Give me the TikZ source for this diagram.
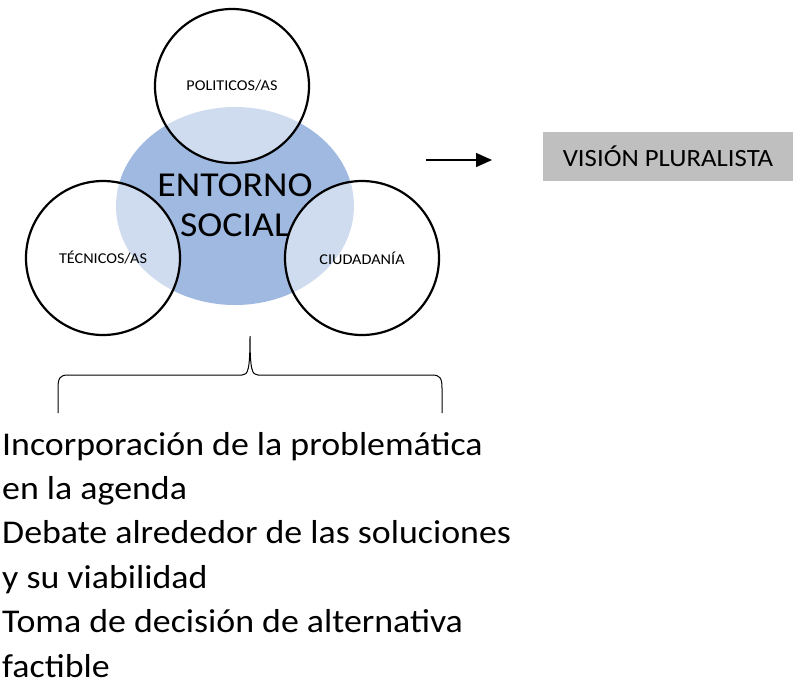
\documentclass[tikz,border=0pt]{standalone}
\usepackage{fontspec}
\setmainfont[FakeStretch=1.08]{Carlito}
\usetikzlibrary{positioning,arrows.meta,shapes.geometric}
\definecolor{socialblue}{RGB}{160,185,224}
\definecolor{visiongray}{RGB}{191,191,191}

\begin{document}
\begin{tikzpicture}[x=1pt, y=-1pt,
  actor/.style={draw, circle, line width=2.2pt, minimum size=154pt, inner sep=0pt, fill=white, fill opacity=0.5, text opacity=1, font=\fontsize{15}{18}\selectfont},
  social/.style={ellipse, fill=socialblue, minimum width=238pt, minimum height=198pt, inner sep=0pt},
  visionbox/.style={fill=visiongray, minimum width=250pt, minimum height=49pt, inner sep=0pt, font=\fontsize{24.8}{30}\selectfont},
  item/.style={anchor=base west, inner sep=0pt, font=\fontsize{33.2}{40}\selectfont},
  >={Triangle[length=16pt, width=14pt]}]
  \useasboundingbox (0,0) rectangle (794,681);
  \node[social] (social) at (235,206) {};
  \node[actor] (pol) at (232,86) {POLITICOS/AS};
  \node[actor] (tec) at (103,258) {TÉCNICOS/AS};
  \node[actor] (ciu) at (362,258) {CIUDADANÍA};
  \node[align=center, inner sep=0pt, font=\fontsize{35}{40}\selectfont] (socialtext) at (235,205) {ENTORNO\\SOCIAL};
  \coordinate (arrowtail) at (426,160);
  \coordinate (arrowtip) at (492,160);
  \draw[->, line width=1.5pt] (arrowtail) -- (arrowtip);
  \node[visionbox] (vision) at (668,156.5) {VISIÓN PLURALISTA};
  % llave bajo el entorno
  \coordinate (braceleft) at (58,413);
  \coordinate (bracetop) at (250,336);
  \coordinate (braceright) at (442,413);
  \draw[line width=1pt] (braceleft) -- (58,388) .. controls (58,378) and (60,375) .. (68,375)
    -- (242,375) .. controls (248,375) and (250,370) .. (bracetop)
    .. controls (250,370) and (252,375) .. (258,375) -- (432,375)
    .. controls (440,375) and (442,378) .. (442,388) -- (braceright);
  \node[item] (item1) at (2,455) {Incorporación de la problemática};
  \node[item] (item2) at (2,499.4) {en la agenda};
  \node[item] (item3) at (2,543.8) {Debate alrededor de las soluciones};
  \node[item] (item4) at (2,588.2) {y su viabilidad};
  \node[item] (item5) at (2,632.6) {Toma de decisión de alternativa};
  \node[item] (item6) at (2,677) {factible};
\end{tikzpicture}
\end{document}
